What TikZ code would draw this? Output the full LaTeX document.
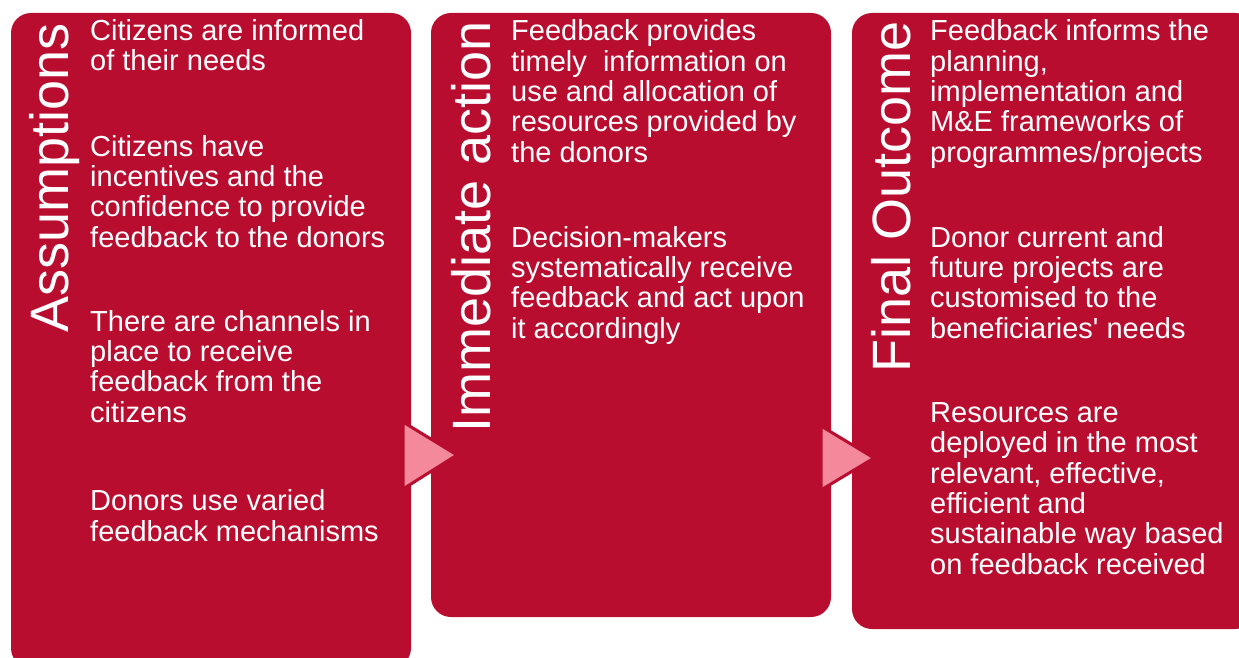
\documentclass[tikz,border=0pt]{standalone}
\usepackage{fontspec}
\setmainfont{Liberation Sans}
\definecolor{boxred}{RGB}{185,13,48}
\definecolor{arrowpink}{RGB}{244,137,155}
\begin{document}
\begin{tikzpicture}[x=1pt,y=-1pt,
  panel/.style={fill=boxred, draw=none, rounded corners=20pt},
  chevron/.style={fill=arrowpink, draw=boxred, line width=3pt, line join=miter},
  title/.style={text=white, inner sep=0pt, anchor=base west, rotate=90, font=\fontsize{54}{60}\selectfont},
  body/.style={text=white, inner sep=0pt, anchor=base west, align=left, font=\fontsize{29}{30.3}\selectfont}]
\useasboundingbox (0,0) rectangle (1239,658);
\clip (0,0) rectangle (1239,658);
% panels
\path[panel] (11,13) rectangle (411,668);
\path[panel] (431,13) rectangle (831,617);
\path[panel] (852,13) rectangle (1255,629);
% chevrons
\coordinate (a1) at (403,422); \coordinate (a2) at (403,489); \coordinate (a3) at (457,455);
\coordinate (b1) at (821,426); \coordinate (b2) at (821,490); \coordinate (b3) at (874,458);
\draw[chevron] (a1) -- (a3) -- (a2) -- cycle;
\draw[chevron] (b1) -- (b3) -- (b2) -- cycle;
% titles
\node[title] (t1) at (68,333) {Assumptions};
\node[title] (t2) at (490,433) {Immediate action};
\node[title] (t3) at (910,373) {Final Outcome};
% column 1 (positions are the baselines of the last lines)
\node[body] (p11) at (90,71) {Citizens are informed\\of their needs};
\node[body] (p12) at (90,247) {Citizens have\\incentives and the\\confidence to provide\\feedback to the donors};
\node[body] (p13) at (90,422) {There are channels in\\place to receive\\feedback from the\\citizens};
\node[body] (p14) at (90,541) {Donors use varied\\feedback mechanisms};
% column 2
\node[body] (p21) at (511,162) {Feedback provides\\timely\ \ information on\\use and allocation of\\resources provided by\\the donors};
\node[body] (p22) at (511,338) {Decision-makers\\systematically receive\\feedback and act upon\\it accordingly};
% column 3
\node[body] (p31) at (930,162) {Feedback informs the\\planning,\\implementation and\\M\&E frameworks of\\programmes/projects};
\node[body] (p32) at (930,338) {Donor current and\\future projects are\\customised to the\\beneficiaries\textquotesingle{} needs};
\node[body] (p33) at (930,574) {Resources are\\deployed in the most\\relevant, effective,\\efficient and\\sustainable way based\\on feedback received};
\end{tikzpicture}
\end{document}
